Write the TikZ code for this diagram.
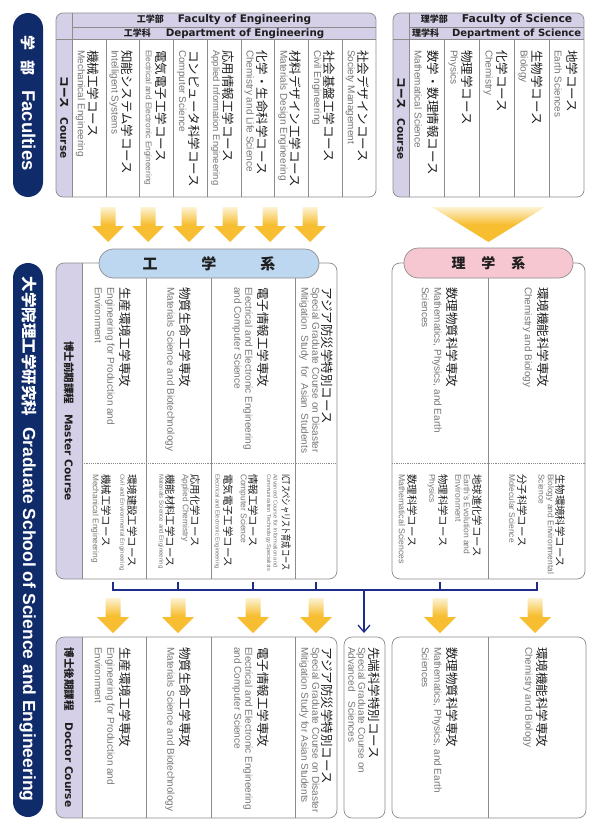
\documentclass[tikz,border=0pt]{standalone}
\usepackage{fontspec}
\setmainfont{Liberation Sans}
\newfontfamily\jpf{Noto Sans CJK JP}
\newfontfamily\djv{DejaVu Sans}
\usetikzlibrary{arrows.meta}
\definecolor{navy}{RGB}{16,43,105}
\definecolor{lav}{RGB}{213,208,232}
\definecolor{boxgray}{RGB}{140,140,140}
\definecolor{engray}{RGB}{118,118,118}
\definecolor{jpcol}{RGB}{30,30,30}
\definecolor{pillblue}{RGB}{190,215,240}
\definecolor{pillpink}{RGB}{247,199,209}
\definecolor{conn}{RGB}{32,44,140}
\definecolor{ay}{RGB}{247,190,50}
\definecolor{ayl}{RGB}{252,243,212}
\newcommand\myfs[1]{\fontsize{#1}{#1}\selectfont}
\newcommand\yarrow[2]{%
  \shade[top color=ayl,bottom color=ay,middle color=ay]
   (#1-7.5,#2) -- (#1+7.5,#2) -- (#1+7.5,#2+19) -- (#1+16,#2+19) -- (#1,#2+35)
   -- (#1-16,#2+19) -- (#1-7.5,#2+19) -- cycle;}
\begin{document}
\begin{tikzpicture}[x=1pt,y=-1pt,
 boxline/.style={draw=boxgray,line width=0.7pt},
 divline/.style={draw=boxgray,line width=0.7pt},
 dashline/.style={draw=boxgray,line width=0.6pt,dash pattern=on 1.2pt off 1pt},
 jp/.style={rotate=-90,anchor=west,inner sep=0pt,text=jpcol,font=\jpf\myfs{12.5}},
 jps/.style={jp,font=\jpf\myfs{10.4}},
 en/.style={rotate=-90,anchor=west,inner sep=0pt,text=engray,font=\myfs{10}},
 striplab/.style={rotate=-90,inner sep=0pt,text=jpcol,font=\djv\bfseries\myfs{10.5}},
 pilllab/.style={rotate=-90,inner sep=0pt,text=white,font=\bfseries},
 pill/.style={draw=boxgray,line width=0.7pt,rounded corners=14.5pt,inner sep=0pt,text=jpcol,font=\jpf\bfseries},
 hdr/.style={inner sep=0pt,text=jpcol,font=\djv\bfseries\myfs{10.5}},
 connline/.style={draw=conn,line width=1.3pt},
]
\useasboundingbox (0,0) rectangle (600,832);
\fill[white] (0,0) rectangle (600,832);

% ---------- navy side pills ----------
\fill[navy,rounded corners=15pt] (13,13) rectangle (43,197);
\node[pilllab] (facl) at (28,103) {{\jpf\myfs{15}学}\hspace{10pt}{\jpf\myfs{15}部}\hspace{15pt}{\myfs{18.5}Faculties}};
\fill[navy,rounded corners=15pt] (13,263) rectangle (43,817);
\node[pilllab] (gradl) at (28,539) {{\jpf\myfs{15.5}大学院理工学研究科}\hspace{11pt}{\myfs{17.5}Graduate School of Science and Engineering}};

% ---------- Faculty of Engineering box ----------
\begin{scope}
\clip[rounded corners=7pt] (56,13) rectangle (376,197);
\fill[lav] (56,13) rectangle (72.3,197);
\fill[lav] (72.3,13) rectangle (376,39);
\end{scope}
\draw[divline] (72.3,27) -- (376,27);
\draw[divline] (56,39) -- (376,39);
\draw[divline] (72.3,13) -- (72.3,197);
\foreach \i in {1,...,8} \draw[divline] ({72.3+33.74*\i},39) -- ({72.3+33.74*\i},197);
\draw[boxline,rounded corners=7pt] (56,13) rectangle (376,197);
\node[hdr] (feh) at (224,20) {{\jpf\myfs{9}工学部}\hspace{14pt}Faculty of Engineering};
\node[hdr,font=\djv\bfseries\myfs{10.3}] (fed) at (224,33.3) {{\jpf\myfs{9}工学科}\hspace{15pt}Department of Engineering};
\node[striplab] (fec) at (64,117.5) {{\jpf\myfs{10.5}コース}\hspace{10pt}Course};

\node[jp] (f1j) at (93.3,50) {機械工学コース};
\node[en] (f1e) at (80.5,50) {Mechanical Engineering};
\node[jp] (f2j) at (127,50) {知能システム学コース};
\node[en] (f2e) at (114.2,50) {Intelligent Systems};
\node[jp] (f3j) at (160.8,50) {電気電子工学コース};
\node[en] (f3e) at (148,50) {\myfs{8.3}Electrical and Electronic Engineering};
\node[jp] (f4j) at (194.5,50) {コンピュータ科学コース};
\node[en] (f4e) at (181.7,50) {Computer Science};
\node[jp] (f5j) at (228.3,50) {応用情報工学コース};
\node[en] (f5e) at (215.5,50) {\myfs{9.5}Applied Information Engineering};
\node[jp] (f6j) at (262,50) {化学・生命科学コース};
\node[en] (f6e) at (249.2,50) {Chemistry and Life Science};
\node[jp] (f7j) at (295.7,50) {材料デザイン工学コース};
\node[en] (f7e) at (282.9,50) {Materials Design Engineering};
\node[jp] (f8j) at (329.5,50) {社会基盤工学コース};
\node[en] (f8e) at (316.7,50) {Civil Engineering};
\node[jp] (f9j) at (363.2,50) {社会デザインコース};
\node[en] (f9e) at (350.4,50) {Society Management};

% ---------- Faculty of Science box ----------
\begin{scope}
\clip[rounded corners=7pt] (393,13) rectangle (584,197);
\fill[lav] (393,13) rectangle (409.3,197);
\fill[lav] (409.3,13) rectangle (584,39);
\end{scope}
\draw[divline] (409.3,27) -- (584,27);
\draw[divline] (393,39) -- (584,39);
\draw[divline] (409.3,13) -- (409.3,197);
\foreach \i in {1,...,4} \draw[divline] ({409.3+34.94*\i},39) -- ({409.3+34.94*\i},197);
\draw[boxline,rounded corners=7pt] (393,13) rectangle (584,197);
\node[hdr,font=\djv\bfseries\myfs{10.8}] (fsh) at (496.6,20) {{\jpf\myfs{9}理学部}\hspace{14pt}Faculty of Science};
\node[hdr,font=\djv\bfseries\myfs{10}] (fsd) at (496.6,33.3) {{\jpf\myfs{9}理学科}\hspace{13pt}Department of Science};
\node[striplab] (fsc) at (401,118.5) {{\jpf\myfs{10.5}コース}\hspace{10pt}Course};

\node[jp] (s1j) at (432.8,50) {数学・数理情報コース};
\node[en] (s1e) at (418.3,50) {Mathematical Science};
\node[jp] (s2j) at (467.7,50) {物理学コース};
\node[en] (s2e) at (453.2,50) {Physics};
\node[jp] (s3j) at (502.7,50) {化学コース};
\node[en] (s3e) at (488.2,50) {Chemistry};
\node[jp] (s4j) at (537.6,50) {生物学コース};
\node[en] (s4e) at (523.1,50) {Biology};
\node[jp] (s5j) at (572.6,50) {地学コース};
\node[en] (s5e) at (558.1,50) {Earth Sciences};

% ---------- yellow arrows (faculty -> graduate) ----------
\foreach \cx in {108,148,189,230,270,310} {\yarrow{\cx}{207}}
\shade[top color=ayl,bottom color=ay,middle color=ay] (432,207) -- (545,207) -- (488.5,242) -- cycle;

% ---------- Master course: engineering ----------
\begin{scope}
\clip[rounded corners=8pt] (56,263) rectangle (337,579);
\fill[lav] (56,263) rectangle (82,579);
\end{scope}
\draw[divline] (82,263) -- (82,579);
\foreach \xx in {146,211,295} \draw[divline] (\xx,278) -- (\xx,579);
\draw[dashline] (82,463) -- (337,463);
\draw[boxline,rounded corners=8pt] (56,263) rectangle (337,579);
\node[pill,fill=pillblue,minimum width=220pt,minimum height=29pt] (engpill) at (209,263.5)
  {\myfs{15}工\hspace{44pt}学\hspace{44pt}系};
\node[striplab,font=\djv\bfseries\myfs{10.6}] (mlab) at (69,421) {{\jpf\myfs{10.5}博士前期課程}\hspace{10pt}Master Course};

\node[jp] (m1j) at (125,287) {生産環境工学専攻};
\node[en] (m1e) at (110,287) {Engineering for Production and};
\node[en] (m1f) at (98.5,287) {Environment};
\node[jp] (m2j) at (185,287) {物質生命工学専攻};
\node[en] (m2e) at (170,287) {Materials Science and Biotechnology};
\node[jp] (m3j) at (263,287) {電子情報工学専攻};
\node[en] (m3e) at (248,287) {Electrical and Electronic Engineering};
\node[en] (m3f) at (237,287) {and Computer Science};
\node[jp] (m4j) at (327,287) {アジア防災学特別コース};
\node[en] (m4e) at (315,287) {Special Graduate Course on Disaster};
\node[en] (m4f) at (304,287) {\makebox[166pt][s]{Mitigation Study for Asian Students}};

\node[jps] (c1j) at (106,474) {機械工学コース};
\node[en] (c1e) at (95,474) {\myfs{8.3}Mechanical Engineering};
\node[jps] (c2j) at (132,474) {環境建設工学コース};
\node[en] (c2e) at (122,474) {\myfs{6}Civil and Environmental Engineering};
\node[jps] (c3j) at (170,474) {機能材料工学コース};
\node[en] (c3e) at (161,474) {\myfs{6.1}Materials Science and Engineering};
\node[jps] (c4j) at (195,474) {応用化学コース};
\node[en] (c4e) at (185,474) {\myfs{8.3}Applied Chemistry};
\node[jps] (c5j) at (228,474) {電気電子工学コース};
\node[en] (c5e) at (217,474) {\myfs{5.8}Electrical and Electronic Engineering};
\node[jps] (c6j) at (253,474) {情報工学コース};
\node[en] (c6e) at (243,474) {\myfs{8.4}Computer Science};
\node[jps] (c7j) at (286,474) {\scalebox{0.69}[1]{ICTスペシャリスト育成コース}};
\node[en] (c7e) at (275.5,474) {\myfs{5.6}Advanced Course for Information and};
\node[en] (c7f) at (268.5,474) {\myfs{5.6}Communication Technology Specialists};

% ---------- Master course: science ----------
\draw[divline] (488,278) -- (488,579);
\draw[dashline] (392,463) -- (585,463);
\draw[boxline,rounded corners=8pt] (392,263) rectangle (585,579);
\node[pill,fill=pillpink,minimum width=169pt,minimum height=30pt] (scipill) at (488.5,263)
  {\myfs{14}理\hspace{16pt}学\hspace{16pt}系};

\node[jp] (n1j) at (452,287) {数理物質科学専攻};
\node[en] (n1e) at (437,287) {Mathematics, Physics, and Earth};
\node[en] (n1f) at (425.5,287) {Sciences};
\node[jp] (n2j) at (543,287) {環境機能科学専攻};
\node[en] (n2e) at (527.5,287) {Chemistry and Biology};

\node[jps] (d1j) at (412,474) {数理科学コース};
\node[en] (d1e) at (402,474) {\myfs{8.7}Mathematical Sciences};
\node[jps] (d2j) at (443,474) {物理科学コース};
\node[en] (d2e) at (431.5,474) {\myfs{8.4}Physics};
\node[jps] (d3j) at (477,474) {地球進化学コース};
\node[en] (d3e) at (467,474) {\myfs{8.5}Earth's Evolution and};
\node[en] (d3f) at (458.5,474) {\myfs{8.5}Environment};
\node[jps] (d4j) at (522,474) {分子科学コース};
\node[en] (d4e) at (512,474) {\myfs{8.4}Molecular Science};
\node[jps] (d5j) at (560,474) {生物環境科学コース};
\node[en] (d5e) at (550,474) {\myfs{8.4}Biology and Environmental};
\node[en] (d5f) at (541.5,474) {\myfs{8.4}Science};

% ---------- connector ----------
\coordinate (k1) at (113,582); \coordinate (h1) at (113,590);
\coordinate (k2) at (178,582); \coordinate (h2) at (178,590);
\coordinate (k3) at (253,582); \coordinate (h3) at (253,590);
\coordinate (k4) at (316,582); \coordinate (h4) at (316,590);
\coordinate (k5) at (440,582); \coordinate (h5) at (440,590);
\coordinate (k6) at (537,582); \coordinate (h6) at (537,590);
\coordinate (hm) at (364,590); \coordinate (am) at (364,633);
\draw[connline] (k1) -- (h1) -- (h6) -- (k6);
\foreach \i in {2,...,5} \draw[connline] (k\i) -- (h\i);
\draw[connline,-{Straight Barb[length=7pt,width=12pt]}] (hm) -- (am);

% ---------- yellow arrows (master -> doctor) ----------
\foreach \cx in {113,178,253,316,440,535} {\yarrow{\cx}{598}}

% ---------- Doctor course: engineering ----------
\begin{scope}
\clip[rounded corners=8pt] (56,637) rectangle (337,818);
\fill[lav] (56,637) rectangle (82,818);
\end{scope}
\draw[divline] (82,637) -- (82,818);
\foreach \xx in {146,211,295} \draw[divline] (\xx,637) -- (\xx,818);
\draw[boxline,rounded corners=8pt] (56,637) rectangle (337,818);
\node[striplab,font=\djv\bfseries\myfs{10.6}] (dlab) at (69,727.5) {{\jpf\myfs{10.5}博士後期課程}\hspace{12pt}Doctor Course};

\node[jp] (p1j) at (125,647) {生産環境工学専攻};
\node[en] (p1e) at (110,647) {Engineering for Production and};
\node[en] (p1f) at (98.5,647) {Environment};
\node[jp] (p2j) at (185,647) {物質生命工学専攻};
\node[en] (p2e) at (170,647) {Materials Science and Biotechnology};
\node[jp] (p3j) at (263,647) {電子情報工学専攻};
\node[en] (p3e) at (248,647) {Electrical and Electronic Engineering};
\node[en] (p3f) at (237,647) {and Computer Science};
\node[jp] (p4j) at (327,647) {アジア防災学特別コース};
\node[en] (p4e) at (315,647) {Special Graduate Course on Disaster};
\node[en] (p4f) at (304,647) {Mitigation Study for Asian Students};

% ---------- Doctor: advanced sciences ----------
\draw[boxline,rounded corners=8pt] (344,637) rectangle (385,818);
\node[jp] (q1j) at (374,647) {先端科学特別コース};
\node[en] (q1e) at (361,647) {Special Graduate Course on};
\node[en] (q1f) at (352,647) {Advanced\hspace{10pt}Sciences};

% ---------- Doctor course: science ----------
\draw[divline] (488,637) -- (488,818);
\draw[boxline,rounded corners=8pt] (392,637) rectangle (586,818);
\node[jp] (r1j) at (452,647) {数理物質科学専攻};
\node[en] (r1e) at (437,647) {Mathematics, Physics, and Earth};
\node[en] (r1f) at (425.5,647) {Sciences};
\node[jp] (r2j) at (542,647) {環境機能科学専攻};
\node[en] (r2e) at (528,647) {Chemistry and Biology};
\end{tikzpicture}
\end{document}
